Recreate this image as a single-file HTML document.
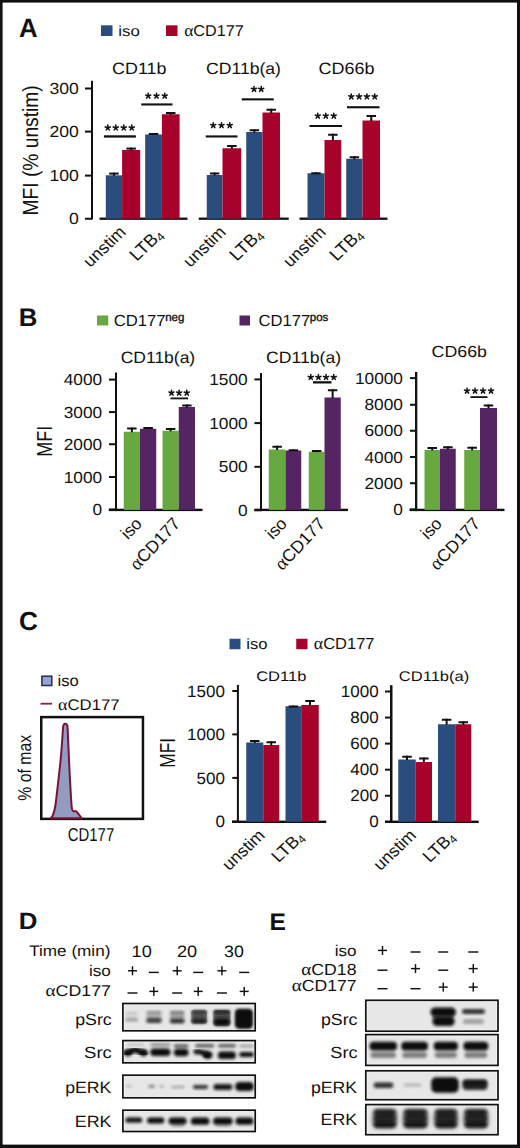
<!DOCTYPE html>
<html><head><meta charset="utf-8"><style>
html,body{margin:0;padding:0;background:#fff;width:520px;height:1148px;overflow:hidden}
svg{display:block}
text{font-family:"Liberation Sans", sans-serif;text-rendering:geometricPrecision}
</style></head><body>
<svg width="520" height="1148" viewBox="0 0 520 1148">
<defs><filter id="b8" x="-50%" y="-50%" width="200%" height="200%"><feGaussianBlur stdDeviation="0.8"/></filter><filter id="b10" x="-50%" y="-50%" width="200%" height="200%"><feGaussianBlur stdDeviation="1.0"/></filter><filter id="b12" x="-50%" y="-50%" width="200%" height="200%"><feGaussianBlur stdDeviation="1.2"/></filter><filter id="b15" x="-50%" y="-50%" width="200%" height="200%"><feGaussianBlur stdDeviation="1.5"/></filter><filter id="b18" x="-50%" y="-50%" width="200%" height="200%"><feGaussianBlur stdDeviation="1.8"/></filter><filter id="b20" x="-50%" y="-50%" width="200%" height="200%"><feGaussianBlur stdDeviation="2.0"/></filter><clipPath id="c0"><rect x="123.70" y="1004.30" width="130.70" height="25.70"/></clipPath><clipPath id="c1"><rect x="123.70" y="1041.40" width="130.70" height="20.60"/></clipPath><clipPath id="c2"><rect x="123.70" y="1076.00" width="130.70" height="21.00"/></clipPath><clipPath id="c3"><rect x="123.70" y="1111.00" width="130.70" height="19.70"/></clipPath><clipPath id="c4"><rect x="366.60" y="1001.10" width="130.60" height="29.30"/></clipPath><clipPath id="c5"><rect x="366.60" y="1035.40" width="130.60" height="29.20"/></clipPath><clipPath id="c6"><rect x="366.60" y="1071.60" width="130.60" height="27.30"/></clipPath><clipPath id="c7"><rect x="366.60" y="1105.40" width="130.60" height="28.50"/></clipPath></defs>
<rect width="520" height="1148" fill="#fff"/>
<rect x="0.00" y="0.00" width="520.00" height="2.60" fill="#111" />
<rect x="0.00" y="0.00" width="2.60" height="1148.00" fill="#111" />
<rect x="517.00" y="0.00" width="3.00" height="1148.00" fill="#111" />
<rect x="0.00" y="1144.60" width="520.00" height="3.40" fill="#111" />
<text transform="translate(18.93,36.90) scale(0.966,1)" font-size="26.67" font-weight="bold" fill="#111" >A</text>
<rect x="101.00" y="25.30" width="11.50" height="10.70" fill="#2b4d7e" />
<text transform="translate(118.32,36.00) scale(1.153,1)" font-size="14.58" fill="#111" >iso</text>
<rect x="166.00" y="25.30" width="11.50" height="10.70" fill="#a6022b" />
<text transform="translate(184.15,36.00) scale(1.039,1)" font-size="15.60" fill="#111" ><tspan font-family="Liberation Serif" font-size="16.85">α</tspan>CD177</text>
<text transform="translate(112.11,74.25) scale(1.096,1)" font-size="16.32" fill="#111" >CD11b</text>
<text transform="translate(206.12,74.25) scale(1.079,1)" font-size="16.30" fill="#111" >CD11b(a)</text>
<text transform="translate(318.60,74.25) scale(1.101,1)" font-size="16.32" fill="#111" >CD66b</text>
<rect x="91.00" y="80.75" width="2.00" height="138.75" fill="#111" />
<rect x="85.00" y="87.50" width="7.00" height="2.00" fill="#111" />
<text transform="translate(49.41,94.10) scale(1.100,1)" font-size="16.00" fill="#111" >300</text>
<rect x="85.00" y="130.60" width="7.00" height="2.00" fill="#111" />
<text transform="translate(49.41,137.20) scale(1.100,1)" font-size="16.00" fill="#111" >200</text>
<rect x="85.00" y="174.60" width="7.00" height="2.00" fill="#111" />
<text transform="translate(49.41,181.20) scale(1.100,1)" font-size="16.00" fill="#111" >100</text>
<rect x="85.00" y="217.75" width="7.00" height="2.00" fill="#111" />
<text transform="translate(68.95,224.35) scale(1.100,1)" font-size="16.00" fill="#111" >0</text>
<text transform="translate(38.30,215.54) scale(1.141,1) rotate(-90)" font-size="19.23" fill="#111" >MFI (% unstim)</text>
<rect x="99.50" y="217.55" width="88.00" height="2.30" fill="#111" />
<rect x="198.75" y="217.55" width="90.00" height="2.30" fill="#111" />
<rect x="299.50" y="217.55" width="88.00" height="2.30" fill="#111" />
<rect x="105.80" y="175.30" width="16.30" height="43.40" fill="#2b4d7e" />
<rect x="112.95" y="172.60" width="2.00" height="3.20" fill="#111" />
<rect x="109.20" y="172.60" width="9.50" height="2.00" fill="#111" />
<rect x="122.10" y="150.00" width="18.10" height="68.70" fill="#a6022b" />
<rect x="130.15" y="147.60" width="2.00" height="2.90" fill="#111" />
<rect x="126.40" y="147.60" width="9.50" height="2.00" fill="#111" />
<rect x="145.20" y="134.50" width="16.70" height="84.20" fill="#2b4d7e" />
<rect x="152.55" y="133.00" width="2.00" height="2.00" fill="#111" />
<rect x="148.80" y="133.00" width="9.50" height="2.00" fill="#111" />
<rect x="161.90" y="114.25" width="17.70" height="104.45" fill="#a6022b" />
<rect x="169.75" y="112.00" width="2.00" height="2.75" fill="#111" />
<rect x="166.00" y="112.00" width="9.50" height="2.00" fill="#111" />
<rect x="206.75" y="175.00" width="15.75" height="43.70" fill="#2b4d7e" />
<rect x="213.62" y="172.50" width="2.00" height="3.00" fill="#111" />
<rect x="209.88" y="172.50" width="9.50" height="2.00" fill="#111" />
<rect x="222.50" y="148.25" width="18.75" height="70.45" fill="#a6022b" />
<rect x="230.88" y="145.00" width="2.00" height="3.75" fill="#111" />
<rect x="227.12" y="145.00" width="9.50" height="2.00" fill="#111" />
<rect x="246.25" y="132.00" width="16.25" height="86.70" fill="#2b4d7e" />
<rect x="253.38" y="129.25" width="2.00" height="3.25" fill="#111" />
<rect x="249.62" y="129.25" width="9.50" height="2.00" fill="#111" />
<rect x="262.50" y="112.50" width="17.50" height="106.20" fill="#a6022b" />
<rect x="270.25" y="108.75" width="2.00" height="4.25" fill="#111" />
<rect x="266.50" y="108.75" width="9.50" height="2.00" fill="#111" />
<rect x="307.50" y="173.25" width="17.00" height="45.45" fill="#2b4d7e" />
<rect x="315.00" y="172.30" width="2.00" height="1.45" fill="#111" />
<rect x="311.25" y="172.30" width="9.50" height="2.00" fill="#111" />
<rect x="324.50" y="140.00" width="16.75" height="78.70" fill="#a6022b" />
<rect x="331.88" y="133.75" width="2.00" height="6.75" fill="#111" />
<rect x="328.12" y="133.75" width="9.50" height="2.00" fill="#111" />
<rect x="346.25" y="158.75" width="16.25" height="59.95" fill="#2b4d7e" />
<rect x="353.38" y="156.25" width="2.00" height="3.00" fill="#111" />
<rect x="349.62" y="156.25" width="9.50" height="2.00" fill="#111" />
<rect x="362.50" y="120.50" width="17.50" height="98.20" fill="#a6022b" />
<rect x="370.25" y="115.00" width="2.00" height="6.00" fill="#111" />
<rect x="366.50" y="115.00" width="9.50" height="2.00" fill="#111" />
<rect x="103.90" y="135.30" width="32.00" height="2.30" fill="#111" />
<path d="M107.76,127.73L107.76,125.07M107.76,127.73L110.28,126.91M107.76,127.73L109.32,129.87M107.76,127.73L106.20,129.87M107.76,127.73L105.24,126.91" stroke="#111" stroke-width="1.55" stroke-linecap="round" fill="none"/>
<path d="M115.75,127.73L115.75,125.07M115.75,127.73L118.28,126.91M115.75,127.73L117.31,129.87M115.75,127.73L114.19,129.87M115.75,127.73L113.23,126.91" stroke="#111" stroke-width="1.55" stroke-linecap="round" fill="none"/>
<path d="M123.75,127.73L123.75,125.07M123.75,127.73L126.27,126.91M123.75,127.73L125.31,129.87M123.75,127.73L122.19,129.87M123.75,127.73L121.22,126.91" stroke="#111" stroke-width="1.55" stroke-linecap="round" fill="none"/>
<path d="M131.74,127.73L131.74,125.07M131.74,127.73L134.26,126.91M131.74,127.73L133.30,129.87M131.74,127.73L130.18,129.87M131.74,127.73L129.22,126.91" stroke="#111" stroke-width="1.55" stroke-linecap="round" fill="none"/>
<rect x="141.25" y="103.40" width="31.25" height="2.10" fill="#111" />
<path d="M148.26,95.93L148.26,93.27M148.26,95.93L150.78,95.11M148.26,95.93L149.82,98.07M148.26,95.93L146.70,98.07M148.26,95.93L145.74,95.11" stroke="#111" stroke-width="1.55" stroke-linecap="round" fill="none"/>
<path d="M156.50,95.93L156.50,93.27M156.50,95.93L159.02,95.11M156.50,95.93L158.06,98.07M156.50,95.93L154.94,98.07M156.50,95.93L153.98,95.11" stroke="#111" stroke-width="1.55" stroke-linecap="round" fill="none"/>
<path d="M164.74,95.93L164.74,93.27M164.74,95.93L167.26,95.11M164.74,95.93L166.30,98.07M164.74,95.93L163.18,98.07M164.74,95.93L162.22,95.11" stroke="#111" stroke-width="1.55" stroke-linecap="round" fill="none"/>
<rect x="205.75" y="135.40" width="31.75" height="2.10" fill="#111" />
<path d="M213.26,125.43L213.26,122.77M213.26,125.43L215.78,124.61M213.26,125.43L214.82,127.57M213.26,125.43L211.70,127.57M213.26,125.43L210.74,124.61" stroke="#111" stroke-width="1.55" stroke-linecap="round" fill="none"/>
<path d="M221.50,125.43L221.50,122.77M221.50,125.43L224.02,124.61M221.50,125.43L223.06,127.57M221.50,125.43L219.94,127.57M221.50,125.43L218.98,124.61" stroke="#111" stroke-width="1.55" stroke-linecap="round" fill="none"/>
<path d="M229.74,125.43L229.74,122.77M229.74,125.43L232.26,124.61M229.74,125.43L231.30,127.57M229.74,125.43L228.18,127.57M229.74,125.43L227.22,124.61" stroke="#111" stroke-width="1.55" stroke-linecap="round" fill="none"/>
<rect x="241.75" y="98.30" width="32.00" height="2.10" fill="#111" />
<path d="M254.01,89.18L254.01,86.52M254.01,89.18L256.53,88.36M254.01,89.18L255.57,91.32M254.01,89.18L252.45,91.32M254.01,89.18L251.49,88.36" stroke="#111" stroke-width="1.55" stroke-linecap="round" fill="none"/>
<path d="M261.24,89.18L261.24,86.52M261.24,89.18L263.76,88.36M261.24,89.18L262.80,91.32M261.24,89.18L259.68,91.32M261.24,89.18L258.72,88.36" stroke="#111" stroke-width="1.55" stroke-linecap="round" fill="none"/>
<rect x="309.50" y="125.00" width="32.50" height="2.00" fill="#111" />
<path d="M317.76,115.93L317.76,113.27M317.76,115.93L320.28,115.11M317.76,115.93L319.32,118.07M317.76,115.93L316.20,118.07M317.76,115.93L315.24,115.11" stroke="#111" stroke-width="1.55" stroke-linecap="round" fill="none"/>
<path d="M325.75,115.93L325.75,113.27M325.75,115.93L328.27,115.11M325.75,115.93L327.31,118.07M325.75,115.93L324.19,118.07M325.75,115.93L323.23,115.11" stroke="#111" stroke-width="1.55" stroke-linecap="round" fill="none"/>
<path d="M333.74,115.93L333.74,113.27M333.74,115.93L336.26,115.11M333.74,115.93L335.30,118.07M333.74,115.93L332.18,118.07M333.74,115.93L331.22,115.11" stroke="#111" stroke-width="1.55" stroke-linecap="round" fill="none"/>
<rect x="347.00" y="106.20" width="32.50" height="2.10" fill="#111" />
<path d="M351.26,96.68L351.26,94.02M351.26,96.68L353.78,95.86M351.26,96.68L352.82,98.82M351.26,96.68L349.70,98.82M351.26,96.68L348.74,95.86" stroke="#111" stroke-width="1.55" stroke-linecap="round" fill="none"/>
<path d="M359.09,96.68L359.09,94.02M359.09,96.68L361.61,95.86M359.09,96.68L360.65,98.82M359.09,96.68L357.53,98.82M359.09,96.68L356.56,95.86" stroke="#111" stroke-width="1.55" stroke-linecap="round" fill="none"/>
<path d="M366.91,96.68L366.91,94.02M366.91,96.68L369.44,95.86M366.91,96.68L368.47,98.82M366.91,96.68L365.35,98.82M366.91,96.68L364.39,95.86" stroke="#111" stroke-width="1.55" stroke-linecap="round" fill="none"/>
<path d="M374.74,96.68L374.74,94.02M374.74,96.68L377.26,95.86M374.74,96.68L376.30,98.82M374.74,96.68L373.18,98.82M374.74,96.68L372.22,95.86" stroke="#111" stroke-width="1.55" stroke-linecap="round" fill="none"/>
<text transform="translate(127.00,233.00) scale(1.050,1) rotate(-45)" font-size="16.80" text-anchor="end" fill="#111" >unstim</text>
<text transform="translate(164.10,235.80) scale(1.05,1) rotate(-45)" font-size="17.2" text-anchor="end" fill="#111" stroke="#111" stroke-width="0">LTB<tspan font-size="11.70" dy="2.41">4</tspan></text>
<text transform="translate(227.00,233.00) scale(1.050,1) rotate(-45)" font-size="16.80" text-anchor="end" fill="#111" >unstim</text>
<text transform="translate(264.10,235.80) scale(1.05,1) rotate(-45)" font-size="17.2" text-anchor="end" fill="#111" stroke="#111" stroke-width="0">LTB<tspan font-size="11.70" dy="2.41">4</tspan></text>
<text transform="translate(327.00,233.00) scale(1.050,1) rotate(-45)" font-size="16.80" text-anchor="end" fill="#111" >unstim</text>
<text transform="translate(364.10,235.80) scale(1.05,1) rotate(-45)" font-size="17.2" text-anchor="end" fill="#111" stroke="#111" stroke-width="0">LTB<tspan font-size="11.70" dy="2.41">4</tspan></text>
<text transform="translate(18.69,326.25) scale(1.018,1)" font-size="25.36" font-weight="bold" fill="#111" >B</text>
<rect x="97.00" y="315.50" width="11.25" height="10.00" fill="#68a840" />
<text transform="translate(113.66,326.25) scale(1.040,1)" font-size="16.07" fill="#111" >CD177</text>
<text transform="translate(165.20,320.70)" font-size="11.50" fill="#111" stroke="#111" stroke-width="0.35" >neg</text>
<rect x="239.50" y="315.50" width="10.50" height="10.00" fill="#552462" />
<text transform="translate(258.42,326.25) scale(1.035,1)" font-size="16.07" fill="#111" >CD177</text>
<text transform="translate(309.80,320.70)" font-size="11.50" fill="#111" stroke="#111" stroke-width="0.35" >pos</text>
<text transform="translate(120.73,363.30) scale(1.066,1)" font-size="16.40" fill="#111" >CD11b(a)</text>
<text transform="translate(266.12,362.60) scale(1.073,1)" font-size="16.40" fill="#111" >CD11b(a)</text>
<text transform="translate(431.61,357.00) scale(1.114,1)" font-size="15.97" fill="#111" >CD66b</text>
<rect x="115.00" y="372.50" width="2.00" height="138.60" fill="#111" />
<rect x="109.00" y="378.60" width="7.00" height="2.00" fill="#111" />
<text transform="translate(63.67,385.10) scale(1.075,1)" font-size="16.07" fill="#111" >4000</text>
<rect x="109.00" y="411.10" width="7.00" height="2.00" fill="#111" />
<text transform="translate(63.67,417.60) scale(1.075,1)" font-size="16.07" fill="#111" >3000</text>
<rect x="109.00" y="443.25" width="7.00" height="2.00" fill="#111" />
<text transform="translate(63.67,449.75) scale(1.075,1)" font-size="16.07" fill="#111" >2000</text>
<rect x="109.00" y="476.00" width="7.00" height="2.00" fill="#111" />
<text transform="translate(63.67,482.50) scale(1.075,1)" font-size="16.07" fill="#111" >1000</text>
<rect x="109.00" y="508.60" width="7.00" height="2.00" fill="#111" />
<text transform="translate(92.52,515.10) scale(1.075,1)" font-size="16.07" fill="#111" >0</text>
<rect x="108.75" y="508.70" width="93.75" height="2.40" fill="#111" />
<rect x="260.00" y="373.00" width="2.00" height="138.10" fill="#111" />
<rect x="254.40" y="378.40" width="6.60" height="2.00" fill="#111" />
<text transform="translate(209.17,384.90) scale(1.075,1)" font-size="16.07" fill="#111" >1500</text>
<rect x="254.40" y="422.10" width="6.60" height="2.00" fill="#111" />
<text transform="translate(209.17,428.60) scale(1.075,1)" font-size="16.07" fill="#111" >1000</text>
<rect x="254.40" y="465.80" width="6.60" height="2.00" fill="#111" />
<text transform="translate(218.84,472.30) scale(1.075,1)" font-size="16.07" fill="#111" >500</text>
<rect x="254.40" y="509.20" width="6.60" height="2.00" fill="#111" />
<text transform="translate(238.02,515.70) scale(1.075,1)" font-size="16.07" fill="#111" >0</text>
<rect x="254.40" y="508.70" width="93.60" height="2.40" fill="#111" />
<rect x="415.00" y="372.00" width="2.30" height="139.10" fill="#111" />
<rect x="410.00" y="377.10" width="6.00" height="2.00" fill="#111" />
<text transform="translate(354.92,383.70) scale(1.075,1)" font-size="16.07" fill="#111" >10000</text>
<rect x="410.00" y="403.75" width="6.00" height="2.00" fill="#111" />
<text transform="translate(364.42,410.35) scale(1.075,1)" font-size="16.07" fill="#111" >8000</text>
<rect x="410.00" y="429.75" width="6.00" height="2.00" fill="#111" />
<text transform="translate(364.42,436.35) scale(1.075,1)" font-size="16.07" fill="#111" >6000</text>
<rect x="410.00" y="456.00" width="6.00" height="2.00" fill="#111" />
<text transform="translate(364.42,462.60) scale(1.075,1)" font-size="16.07" fill="#111" >4000</text>
<rect x="410.00" y="482.25" width="6.00" height="2.00" fill="#111" />
<text transform="translate(364.42,488.85) scale(1.075,1)" font-size="16.07" fill="#111" >2000</text>
<rect x="410.00" y="508.50" width="6.00" height="2.00" fill="#111" />
<text transform="translate(393.27,515.10) scale(1.075,1)" font-size="16.07" fill="#111" >0</text>
<rect x="409.50" y="508.70" width="95.00" height="2.40" fill="#111" />
<rect x="123.75" y="431.75" width="16.25" height="78.15" fill="#68a840" />
<rect x="130.88" y="427.50" width="2.00" height="4.75" fill="#111" />
<rect x="127.12" y="427.50" width="9.50" height="2.00" fill="#111" />
<rect x="140.00" y="428.75" width="16.25" height="81.15" fill="#552462" />
<rect x="147.12" y="427.00" width="2.00" height="2.25" fill="#111" />
<rect x="143.38" y="427.00" width="9.50" height="2.00" fill="#111" />
<rect x="162.50" y="430.75" width="16.25" height="79.15" fill="#68a840" />
<rect x="169.62" y="428.00" width="2.00" height="3.25" fill="#111" />
<rect x="165.88" y="428.00" width="9.50" height="2.00" fill="#111" />
<rect x="178.75" y="407.00" width="16.25" height="102.90" fill="#552462" />
<rect x="185.88" y="404.50" width="2.00" height="3.00" fill="#111" />
<rect x="182.12" y="404.50" width="9.50" height="2.00" fill="#111" />
<rect x="268.75" y="449.50" width="16.75" height="60.40" fill="#68a840" />
<rect x="276.12" y="445.75" width="2.00" height="4.25" fill="#111" />
<rect x="272.38" y="445.75" width="9.50" height="2.00" fill="#111" />
<rect x="285.50" y="450.50" width="15.75" height="59.40" fill="#552462" />
<rect x="292.38" y="449.30" width="2.00" height="1.70" fill="#111" />
<rect x="288.62" y="449.30" width="9.50" height="2.00" fill="#111" />
<rect x="308.75" y="451.75" width="15.75" height="58.15" fill="#68a840" />
<rect x="315.62" y="450.00" width="2.00" height="2.25" fill="#111" />
<rect x="311.88" y="450.00" width="9.50" height="2.00" fill="#111" />
<rect x="324.50" y="397.50" width="16.25" height="112.40" fill="#552462" />
<rect x="331.62" y="389.25" width="2.00" height="8.75" fill="#111" />
<rect x="327.88" y="389.25" width="9.50" height="2.00" fill="#111" />
<rect x="424.50" y="450.00" width="15.50" height="59.90" fill="#68a840" />
<rect x="431.25" y="447.00" width="2.00" height="3.50" fill="#111" />
<rect x="427.50" y="447.00" width="9.50" height="2.00" fill="#111" />
<rect x="440.00" y="448.75" width="15.75" height="61.15" fill="#552462" />
<rect x="446.88" y="446.25" width="2.00" height="3.00" fill="#111" />
<rect x="443.12" y="446.25" width="9.50" height="2.00" fill="#111" />
<rect x="464.25" y="450.00" width="15.75" height="59.90" fill="#68a840" />
<rect x="471.12" y="446.75" width="2.00" height="3.75" fill="#111" />
<rect x="467.38" y="446.75" width="9.50" height="2.00" fill="#111" />
<rect x="480.00" y="408.00" width="17.00" height="101.90" fill="#552462" />
<rect x="487.50" y="404.50" width="2.00" height="4.00" fill="#111" />
<rect x="483.75" y="404.50" width="9.50" height="2.00" fill="#111" />
<rect x="170.50" y="397.50" width="17.50" height="1.80" fill="#111" />
<path d="M171.51,392.93L171.51,390.28M171.51,392.93L174.03,392.11M171.51,392.93L173.07,395.07M171.51,392.93L169.95,395.07M171.51,392.93L168.99,392.11" stroke="#111" stroke-width="1.55" stroke-linecap="round" fill="none"/>
<path d="M179.12,392.93L179.12,390.28M179.12,392.93L181.65,392.11M179.12,392.93L180.68,395.07M179.12,392.93L177.57,395.07M179.12,392.93L176.60,392.11" stroke="#111" stroke-width="1.55" stroke-linecap="round" fill="none"/>
<path d="M186.74,392.93L186.74,390.28M186.74,392.93L189.26,392.11M186.74,392.93L188.30,395.07M186.74,392.93L185.18,395.07M186.74,392.93L184.22,392.11" stroke="#111" stroke-width="1.55" stroke-linecap="round" fill="none"/>
<rect x="313.00" y="381.20" width="18.50" height="2.30" fill="#111" />
<path d="M310.76,377.23L310.76,374.58M310.76,377.23L313.28,376.41M310.76,377.23L312.32,379.37M310.76,377.23L309.20,379.37M310.76,377.23L308.24,376.41" stroke="#111" stroke-width="1.55" stroke-linecap="round" fill="none"/>
<path d="M318.42,377.23L318.42,374.58M318.42,377.23L320.94,376.41M318.42,377.23L319.98,379.37M318.42,377.23L316.86,379.37M318.42,377.23L315.90,376.41" stroke="#111" stroke-width="1.55" stroke-linecap="round" fill="none"/>
<path d="M326.08,377.23L326.08,374.58M326.08,377.23L328.60,376.41M326.08,377.23L327.64,379.37M326.08,377.23L324.52,379.37M326.08,377.23L323.56,376.41" stroke="#111" stroke-width="1.55" stroke-linecap="round" fill="none"/>
<path d="M333.74,377.23L333.74,374.58M333.74,377.23L336.26,376.41M333.74,377.23L335.30,379.37M333.74,377.23L332.18,379.37M333.74,377.23L331.22,376.41" stroke="#111" stroke-width="1.55" stroke-linecap="round" fill="none"/>
<rect x="470.50" y="396.20" width="17.00" height="1.80" fill="#111" />
<path d="M467.01,390.93L467.01,388.28M467.01,390.93L469.53,390.11M467.01,390.93L468.57,393.07M467.01,390.93L465.45,393.07M467.01,390.93L464.49,390.11" stroke="#111" stroke-width="1.55" stroke-linecap="round" fill="none"/>
<path d="M475.00,390.93L475.00,388.28M475.00,390.93L477.53,390.11M475.00,390.93L476.56,393.07M475.00,390.93L473.44,393.07M475.00,390.93L472.48,390.11" stroke="#111" stroke-width="1.55" stroke-linecap="round" fill="none"/>
<path d="M483.00,390.93L483.00,388.28M483.00,390.93L485.52,390.11M483.00,390.93L484.56,393.07M483.00,390.93L481.44,393.07M483.00,390.93L480.47,390.11" stroke="#111" stroke-width="1.55" stroke-linecap="round" fill="none"/>
<path d="M490.99,390.93L490.99,388.28M490.99,390.93L493.51,390.11M490.99,390.93L492.55,393.07M490.99,390.93L489.43,393.07M490.99,390.93L488.47,390.11" stroke="#111" stroke-width="1.55" stroke-linecap="round" fill="none"/>
<text transform="translate(51.90,456.68) scale(1.214,1) rotate(-90)" font-size="17.90" fill="#111" >MFI</text>
<text transform="translate(143.00,524.50) rotate(-46)" font-size="17.20" text-anchor="end" fill="#111" >iso</text>
<text transform="translate(181.00,524.50) rotate(-47)" font-size="17.40" text-anchor="end" fill="#111" ><tspan font-family="Liberation Serif" font-size="18.79">α</tspan>CD177</text>
<text transform="translate(288.00,524.50) rotate(-46)" font-size="17.20" text-anchor="end" fill="#111" >iso</text>
<text transform="translate(326.00,524.50) rotate(-47)" font-size="17.40" text-anchor="end" fill="#111" ><tspan font-family="Liberation Serif" font-size="18.79">α</tspan>CD177</text>
<text transform="translate(443.00,524.50) rotate(-46)" font-size="17.20" text-anchor="end" fill="#111" >iso</text>
<text transform="translate(481.00,524.50) rotate(-47)" font-size="17.40" text-anchor="end" fill="#111" ><tspan font-family="Liberation Serif" font-size="18.79">α</tspan>CD177</text>
<text transform="translate(18.95,629.50) scale(1.003,1)" font-size="26.07" font-weight="bold" fill="#111" >C</text>
<rect x="41.90" y="676.20" width="9.90" height="9.30" fill="#98a3cf" stroke="#262c4e" stroke-width="1.5"/>
<text transform="translate(57.59,686.25) scale(1.062,1)" font-size="15.62" fill="#111" >iso</text>
<rect x="40.50" y="702.80" width="11.50" height="1.80" fill="#9b1a40" />
<text transform="translate(58.08,709.50) scale(1.088,1)" font-size="15.36" fill="#111" ><tspan font-family="Liberation Serif" font-size="16.59">α</tspan>CD177</text>
<rect x="41.25" y="717.1" width="101.7" height="101.8" fill="none" stroke="#111" stroke-width="2.5"/>
<path d="M50.8,818.2 C53.5,816 54.6,811 55.6,804 C56.8,795 58.6,778 60.2,764 C61.4,752 62.4,738 63,728 C63.3,722.3 67.4,722.3 67.6,728 C68.1,738 68.6,752 69.3,766 C70.1,782 70.9,797 71.6,806 C72,809.8 72.4,811 73.4,811.2 L75.8,811.3 C77.3,811.6 78.8,814.6 81.6,818.2 Z" fill="#929cc0" stroke="#7d1234" stroke-width="2" stroke-linejoin="round"/>
<text transform="translate(30.80,800.63) scale(1.180,1) rotate(-90)" font-size="15.78" fill="#111" >% of max</text>
<text transform="translate(67.85,840.60) scale(0.796,1)" font-size="18.71" fill="#111" >CD177</text>
<rect x="229.50" y="638.75" width="11.00" height="10.50" fill="#2b4d7e" />
<text transform="translate(246.34,648.75) scale(1.111,1)" font-size="14.93" fill="#111" >iso</text>
<rect x="296.25" y="638.75" width="11.25" height="10.50" fill="#a6022b" />
<text transform="translate(313.84,648.75) scale(1.027,1)" font-size="16.07" fill="#111" ><tspan font-family="Liberation Serif" font-size="17.36">α</tspan>CD177</text>
<text transform="translate(256.17,681.25) scale(1.192,1)" font-size="13.89" fill="#111" >CD11b</text>
<text transform="translate(398.67,681.25) scale(1.185,1)" font-size="14.00" fill="#111" >CD11b(a)</text>
<rect x="236.90" y="684.90" width="2.00" height="138.10" fill="#111" />
<rect x="232.30" y="690.00" width="5.70" height="2.00" fill="#111" />
<text transform="translate(187.05,696.60) scale(1.040,1)" font-size="16.40" fill="#111" >1500</text>
<rect x="232.30" y="733.40" width="5.70" height="2.00" fill="#111" />
<text transform="translate(187.05,740.00) scale(1.040,1)" font-size="16.40" fill="#111" >1000</text>
<rect x="232.30" y="776.90" width="5.70" height="2.00" fill="#111" />
<text transform="translate(196.60,783.50) scale(1.040,1)" font-size="16.40" fill="#111" >500</text>
<rect x="232.30" y="820.60" width="5.70" height="2.00" fill="#111" />
<text transform="translate(215.53,827.20) scale(1.040,1)" font-size="16.40" fill="#111" >0</text>
<rect x="232.00" y="820.60" width="94.25" height="2.40" fill="#111" />
<rect x="390.00" y="685.20" width="2.50" height="137.80" fill="#111" />
<rect x="385.00" y="690.50" width="6.00" height="2.00" fill="#111" />
<text transform="translate(340.75,697.10) scale(1.040,1)" font-size="16.40" fill="#111" >1000</text>
<rect x="385.00" y="716.56" width="6.00" height="2.00" fill="#111" />
<text transform="translate(350.30,723.16) scale(1.040,1)" font-size="16.40" fill="#111" >800</text>
<rect x="385.00" y="742.62" width="6.00" height="2.00" fill="#111" />
<text transform="translate(350.30,749.22) scale(1.040,1)" font-size="16.40" fill="#111" >600</text>
<rect x="385.00" y="768.68" width="6.00" height="2.00" fill="#111" />
<text transform="translate(350.30,775.28) scale(1.040,1)" font-size="16.40" fill="#111" >400</text>
<rect x="385.00" y="794.74" width="6.00" height="2.00" fill="#111" />
<text transform="translate(350.30,801.34) scale(1.040,1)" font-size="16.40" fill="#111" >200</text>
<rect x="385.00" y="820.80" width="6.00" height="2.00" fill="#111" />
<text transform="translate(369.23,827.40) scale(1.040,1)" font-size="16.40" fill="#111" >0</text>
<rect x="385.00" y="820.60" width="93.75" height="2.40" fill="#111" />
<rect x="246.25" y="742.50" width="17.00" height="79.30" fill="#2b4d7e" />
<rect x="253.75" y="740.00" width="2.00" height="3.00" fill="#111" />
<rect x="250.00" y="740.00" width="9.50" height="2.00" fill="#111" />
<rect x="263.25" y="745.00" width="16.00" height="76.80" fill="#a6022b" />
<rect x="270.25" y="741.25" width="2.00" height="4.25" fill="#111" />
<rect x="266.50" y="741.25" width="9.50" height="2.00" fill="#111" />
<rect x="285.50" y="706.25" width="15.75" height="115.55" fill="#2b4d7e" />
<rect x="292.38" y="705.50" width="2.00" height="1.25" fill="#111" />
<rect x="288.62" y="705.50" width="9.50" height="2.00" fill="#111" />
<rect x="301.25" y="705.00" width="17.50" height="116.80" fill="#a6022b" />
<rect x="309.00" y="700.00" width="2.00" height="5.50" fill="#111" />
<rect x="305.25" y="700.00" width="9.50" height="2.00" fill="#111" />
<rect x="398.25" y="759.50" width="17.50" height="62.30" fill="#2b4d7e" />
<rect x="406.00" y="755.75" width="2.00" height="4.25" fill="#111" />
<rect x="402.25" y="755.75" width="9.50" height="2.00" fill="#111" />
<rect x="415.75" y="762.00" width="16.25" height="59.80" fill="#a6022b" />
<rect x="422.88" y="757.50" width="2.00" height="5.00" fill="#111" />
<rect x="419.12" y="757.50" width="9.50" height="2.00" fill="#111" />
<rect x="438.00" y="724.25" width="17.25" height="97.55" fill="#2b4d7e" />
<rect x="445.62" y="718.75" width="2.00" height="6.00" fill="#111" />
<rect x="441.88" y="718.75" width="9.50" height="2.00" fill="#111" />
<rect x="455.25" y="724.25" width="16.00" height="97.55" fill="#a6022b" />
<rect x="462.25" y="721.25" width="2.00" height="3.50" fill="#111" />
<rect x="458.50" y="721.25" width="9.50" height="2.00" fill="#111" />
<text transform="translate(175.00,767.63) scale(1.260,1) rotate(-90)" font-size="17.26" fill="#111" >MFI</text>
<text transform="translate(266.00,836.25) scale(1.050,1) rotate(-45)" font-size="16.80" text-anchor="end" fill="#111" >unstim</text>
<text transform="translate(305.25,838.00) scale(1.05,1) rotate(-45)" font-size="16.8" text-anchor="end" fill="#111" stroke="#111" stroke-width="0">LTB<tspan font-size="11.42" dy="2.35">4</tspan></text>
<text transform="translate(417.25,836.25) scale(1.050,1) rotate(-45)" font-size="16.80" text-anchor="end" fill="#111" >unstim</text>
<text transform="translate(456.50,838.00) scale(1.05,1) rotate(-45)" font-size="16.8" text-anchor="end" fill="#111" stroke="#111" stroke-width="0">LTB<tspan font-size="11.42" dy="2.35">4</tspan></text>
<text transform="translate(18.69,928.75) scale(1.096,1)" font-size="23.55" font-weight="bold" fill="#111" >D</text>
<text transform="translate(29.16,955.50) scale(1.123,1)" font-size="15.28" fill="#111" >Time (min)</text>
<text transform="translate(89.03,976.25) scale(1.100,1)" font-size="15.50" fill="#111" >iso</text>
<text transform="translate(45.54,996.25) scale(1.146,1)" font-size="15.50" fill="#111" ><tspan font-family="Liberation Serif" font-size="16.74">α</tspan>CD177</text>
<text transform="translate(131.54,956.60) scale(1.108,1)" font-size="16.43" fill="#111" >10</text>
<text transform="translate(176.89,956.60) scale(1.105,1)" font-size="16.43" fill="#111" >20</text>
<text transform="translate(224.09,956.60) scale(1.083,1)" font-size="16.43" fill="#111" >30</text>
<rect x="128.00" y="970.08" width="9.00" height="1.44" fill="#111" />
<rect x="131.78" y="966.30" width="1.44" height="9.00" fill="#111" />
<rect x="127.50" y="992.28" width="10.00" height="1.44" fill="#111" />
<rect x="148.80" y="971.68" width="10.00" height="1.44" fill="#111" />
<rect x="149.30" y="990.68" width="9.00" height="1.44" fill="#111" />
<rect x="153.08" y="986.90" width="1.44" height="9.00" fill="#111" />
<rect x="172.70" y="970.08" width="9.00" height="1.44" fill="#111" />
<rect x="176.48" y="966.30" width="1.44" height="9.00" fill="#111" />
<rect x="172.20" y="992.28" width="10.00" height="1.44" fill="#111" />
<rect x="193.20" y="971.68" width="10.00" height="1.44" fill="#111" />
<rect x="193.70" y="990.68" width="9.00" height="1.44" fill="#111" />
<rect x="197.48" y="986.90" width="1.44" height="9.00" fill="#111" />
<rect x="217.40" y="970.08" width="9.00" height="1.44" fill="#111" />
<rect x="221.18" y="966.30" width="1.44" height="9.00" fill="#111" />
<rect x="216.90" y="992.28" width="10.00" height="1.44" fill="#111" />
<rect x="239.20" y="971.68" width="10.00" height="1.44" fill="#111" />
<rect x="239.70" y="990.68" width="9.00" height="1.44" fill="#111" />
<rect x="243.48" y="986.90" width="1.44" height="9.00" fill="#111" />
<text transform="translate(75.18,1024.50) scale(1.090,1)" font-size="16.30" fill="#111" >pSrc</text>
<text transform="translate(84.08,1057.50) scale(1.134,1)" font-size="16.30" fill="#111" >Src</text>
<text transform="translate(65.19,1092.50) scale(1.087,1)" font-size="16.30" fill="#111" >pERK</text>
<text transform="translate(74.82,1126.75) scale(1.096,1)" font-size="16.30" fill="#111" >ERK</text>
<text transform="translate(269.53,929.50) scale(1.027,1)" font-size="23.91" font-weight="bold" fill="#111" >E</text>
<text transform="translate(334.78,955.50) scale(1.100,1)" font-size="15.50" fill="#111" >iso</text>
<text transform="translate(301.29,975.00) scale(1.100,1)" font-size="16.07" fill="#111" ><tspan font-family="Liberation Serif" font-size="17.36">α</tspan>CD18</text>
<text transform="translate(291.80,991.25) scale(1.096,1)" font-size="16.07" fill="#111" ><tspan font-family="Liberation Serif" font-size="17.36">α</tspan>CD177</text>
<rect x="378.00" y="949.68" width="9.00" height="1.44" fill="#111" />
<rect x="381.78" y="945.90" width="1.44" height="9.00" fill="#111" />
<rect x="410.50" y="951.28" width="10.00" height="1.44" fill="#111" />
<rect x="438.25" y="951.28" width="10.00" height="1.44" fill="#111" />
<rect x="468.25" y="951.28" width="10.00" height="1.44" fill="#111" />
<rect x="377.50" y="969.48" width="10.00" height="1.44" fill="#111" />
<rect x="411.00" y="967.88" width="9.00" height="1.44" fill="#111" />
<rect x="414.78" y="964.10" width="1.44" height="9.00" fill="#111" />
<rect x="438.25" y="969.48" width="10.00" height="1.44" fill="#111" />
<rect x="468.75" y="967.88" width="9.00" height="1.44" fill="#111" />
<rect x="472.53" y="964.10" width="1.44" height="9.00" fill="#111" />
<rect x="377.50" y="987.98" width="10.00" height="1.44" fill="#111" />
<rect x="410.50" y="987.98" width="10.00" height="1.44" fill="#111" />
<rect x="438.75" y="986.38" width="9.00" height="1.44" fill="#111" />
<rect x="442.53" y="982.60" width="1.44" height="9.00" fill="#111" />
<rect x="468.75" y="986.38" width="9.00" height="1.44" fill="#111" />
<rect x="472.53" y="982.60" width="1.44" height="9.00" fill="#111" />
<text transform="translate(320.93,1024.50) scale(1.090,1)" font-size="16.30" fill="#111" >pSrc</text>
<text transform="translate(330.34,1057.50) scale(1.113,1)" font-size="16.30" fill="#111" >Src</text>
<text transform="translate(310.94,1092.50) scale(1.087,1)" font-size="16.30" fill="#111" >pERK</text>
<text transform="translate(320.57,1125.00) scale(1.096,1)" font-size="16.30" fill="#111" >ERK</text>
<rect x="122.10" y="1002.70" width="133.90" height="28.90" fill="#f4f4f4"/>
<rect x="124.70" y="1005.30" width="128.70" height="23.70" fill="#e7e7e7"/>
<g clip-path="url(#c0)">
<rect x="125.4" y="1011.8" width="12.8" height="3.5" rx="1.8" fill="#0a0a0a" fill-opacity="0.15" filter="url(#b15)"/>
<rect x="125.4" y="1017.5" width="12.8" height="4.0" rx="2.0" fill="#0a0a0a" fill-opacity="0.30" filter="url(#b15)"/>
<rect x="146.2" y="1011.0" width="15.5" height="3.5" rx="1.8" fill="#0a0a0a" fill-opacity="0.40" filter="url(#b15)"/>
<rect x="146.2" y="1015.3" width="15.5" height="3.0" rx="1.5" fill="#0a0a0a" fill-opacity="0.30" filter="url(#b15)"/>
<rect x="146.2" y="1018.2" width="15.5" height="4.5" rx="2.2" fill="#0a0a0a" fill-opacity="0.85" filter="url(#b15)"/>
<rect x="169.8" y="1011.0" width="14.8" height="3.5" rx="1.8" fill="#0a0a0a" fill-opacity="0.50" filter="url(#b15)"/>
<rect x="169.8" y="1015.3" width="14.8" height="3.0" rx="1.5" fill="#0a0a0a" fill-opacity="0.40" filter="url(#b15)"/>
<rect x="169.8" y="1018.8" width="14.8" height="4.5" rx="2.2" fill="#0a0a0a" fill-opacity="0.90" filter="url(#b15)"/>
<rect x="191.3" y="1009.8" width="15.7" height="14.0" rx="3.0" fill="#0a0a0a" fill-opacity="0.30" filter="url(#b16)"/>
<rect x="191.3" y="1010.5" width="15.7" height="4.0" rx="2.0" fill="#0a0a0a" fill-opacity="0.85" filter="url(#b15)"/>
<rect x="191.3" y="1014.9" width="15.7" height="3.5" rx="1.8" fill="#0a0a0a" fill-opacity="0.60" filter="url(#b15)"/>
<rect x="191.3" y="1018.5" width="15.7" height="5.0" rx="2.5" fill="#0a0a0a" fill-opacity="0.97" filter="url(#b15)"/>
<rect x="213.4" y="1010.0" width="16.9" height="16.0" rx="3.0" fill="#0a0a0a" fill-opacity="0.40" filter="url(#b16)"/>
<rect x="213.4" y="1010.3" width="16.9" height="4.0" rx="2.0" fill="#0a0a0a" fill-opacity="0.95" filter="url(#b15)"/>
<rect x="213.4" y="1015.0" width="16.9" height="3.0" rx="1.5" fill="#0a0a0a" fill-opacity="0.70" filter="url(#b15)"/>
<rect x="213.4" y="1018.0" width="16.9" height="8.0" rx="4.0" fill="#0a0a0a" fill-opacity="1.00" filter="url(#b15)"/>
<rect x="235.2" y="1009.0" width="17.3" height="19.4" rx="4.0" fill="#0a0a0a" fill-opacity="1.00" filter="url(#b15)"/>
<rect x="236.2" y="1010.2" width="15.3" height="17.0" rx="3.0" fill="#0a0a0a" fill-opacity="1.00" filter="url(#b10)"/>
</g>
<rect x="122.90" y="1003.50" width="132.30" height="27.30" fill="none" stroke="#111" stroke-width="1.7"/>
<rect x="122.10" y="1039.80" width="133.90" height="23.80" fill="#f4f4f4"/>
<rect x="124.70" y="1042.40" width="128.70" height="18.60" fill="#e7e7e7"/>
<g clip-path="url(#c1)">
<path d="M126.5,1053.2 C129,1053.5 131,1050 135,1050 C139,1050 141,1053.5 144.5,1053.2" fill="none" stroke="#0a0a0a" stroke-width="6" stroke-linecap="round" stroke-opacity="1" filter="url(#b15)"/>
<ellipse cx="128.0" cy="1053.0" rx="3.5" ry="3.3" fill="#0a0a0a" fill-opacity="1.00" filter="url(#b15)"/>
<ellipse cx="143.5" cy="1053.0" rx="3.5" ry="3.3" fill="#0a0a0a" fill-opacity="1.00" filter="url(#b15)"/>
<rect x="127.0" y="1043.2" width="17.0" height="3.0" rx="1.5" fill="#0a0a0a" fill-opacity="0.15" filter="url(#b15)"/>
<rect x="150.3" y="1043.0" width="20.2" height="3.5" rx="1.8" fill="#0a0a0a" fill-opacity="0.35" filter="url(#b15)"/>
<rect x="150.3" y="1048.5" width="20.2" height="7.5" rx="3.8" fill="#0a0a0a" fill-opacity="1.00" filter="url(#b15)"/>
<rect x="173.8" y="1044.2" width="14.8" height="3.5" rx="1.8" fill="#0a0a0a" fill-opacity="0.60" filter="url(#b15)"/>
<rect x="173.8" y="1048.8" width="14.8" height="7.5" rx="3.8" fill="#0a0a0a" fill-opacity="1.00" filter="url(#b15)"/>
<rect x="195.0" y="1044.0" width="19.4" height="3.5" rx="1.8" fill="#0a0a0a" fill-opacity="0.60" filter="url(#b15)"/>
<path d="M196,1051.8 C201,1051.5 204,1052 207,1055.5" fill="none" stroke="#0a0a0a" stroke-width="5" stroke-linecap="round" stroke-opacity="1" filter="url(#b15)"/>
<ellipse cx="207.8" cy="1055.0" rx="4.8" ry="4.0" fill="#0a0a0a" fill-opacity="1.00" filter="url(#b15)"/>
<rect x="217.9" y="1044.0" width="18.0" height="3.5" rx="1.8" fill="#0a0a0a" fill-opacity="0.60" filter="url(#b15)"/>
<rect x="217.9" y="1051.5" width="18.0" height="7.5" rx="3.5" fill="#0a0a0a" fill-opacity="1.00" filter="url(#b15)"/>
<rect x="239.3" y="1044.5" width="14.6" height="3.0" rx="1.5" fill="#0a0a0a" fill-opacity="0.30" filter="url(#b15)"/>
<rect x="239.3" y="1052.0" width="14.6" height="5.0" rx="2.5" fill="#0a0a0a" fill-opacity="1.00" filter="url(#b15)"/>
</g>
<rect x="122.90" y="1040.60" width="132.30" height="22.20" fill="none" stroke="#111" stroke-width="1.7"/>
<rect x="122.10" y="1074.40" width="133.90" height="24.20" fill="#f4f4f4"/>
<rect x="124.70" y="1077.00" width="128.70" height="19.00" fill="#e7e7e7"/>
<g clip-path="url(#c2)">
<ellipse cx="128.8" cy="1086.0" rx="3.0" ry="1.5" fill="#0a0a0a" fill-opacity="0.18" filter="url(#b15)"/>
<ellipse cx="151.6" cy="1086.2" rx="3.5" ry="1.8" fill="#0a0a0a" fill-opacity="0.40" filter="url(#b15)"/>
<ellipse cx="161.7" cy="1086.5" rx="2.5" ry="1.5" fill="#0a0a0a" fill-opacity="0.25" filter="url(#b15)"/>
<rect x="171.0" y="1085.5" width="13.6" height="3.0" rx="1.5" fill="#0a0a0a" fill-opacity="0.25" filter="url(#b15)"/>
<rect x="192.9" y="1084.9" width="15.2" height="4.0" rx="2.0" fill="#0a0a0a" fill-opacity="0.85" filter="url(#b15)"/>
<rect x="213.4" y="1084.1" width="19.0" height="5.8" rx="2.9" fill="#0a0a0a" fill-opacity="0.95" filter="url(#b15)"/>
<rect x="235.0" y="1082.1" width="19.0" height="9.0" rx="4.5" fill="#0a0a0a" fill-opacity="1.00" filter="url(#b15)"/>
</g>
<rect x="122.90" y="1075.20" width="132.30" height="22.60" fill="none" stroke="#111" stroke-width="1.7"/>
<rect x="122.10" y="1109.40" width="133.90" height="22.90" fill="#f4f4f4"/>
<rect x="124.70" y="1112.00" width="128.70" height="17.70" fill="#e7e7e7"/>
<g clip-path="url(#c3)">
<rect x="125.4" y="1117.4" width="16.8" height="5.2" rx="2.6" fill="#0a0a0a" fill-opacity="1.00" filter="url(#b15)"/>
<rect x="147.0" y="1117.5" width="17.4" height="6.0" rx="3.0" fill="#0a0a0a" fill-opacity="1.00" filter="url(#b15)"/>
<rect x="168.5" y="1117.5" width="18.1" height="7.0" rx="3.5" fill="#0a0a0a" fill-opacity="1.00" filter="url(#b15)"/>
<rect x="190.8" y="1117.6" width="18.7" height="7.2" rx="3.6" fill="#0a0a0a" fill-opacity="1.00" filter="url(#b15)"/>
<rect x="213.1" y="1117.6" width="19.5" height="7.2" rx="3.6" fill="#0a0a0a" fill-opacity="1.00" filter="url(#b15)"/>
<rect x="235.5" y="1117.6" width="18.0" height="7.2" rx="3.6" fill="#0a0a0a" fill-opacity="1.00" filter="url(#b15)"/>
<rect x="172.0" y="1124.0" width="12.0" height="3.0" rx="1.5" fill="#0a0a0a" fill-opacity="0.25" filter="url(#b15)"/>
<rect x="216.0" y="1124.0" width="14.0" height="3.0" rx="1.5" fill="#0a0a0a" fill-opacity="0.20" filter="url(#b15)"/>
</g>
<rect x="122.90" y="1110.20" width="132.30" height="21.30" fill="none" stroke="#111" stroke-width="1.7"/>
<rect x="365.00" y="999.50" width="133.80" height="32.50" fill="#f4f4f4"/>
<rect x="367.60" y="1002.10" width="128.60" height="27.30" fill="#e7e7e7"/>
<g clip-path="url(#c4)">
<rect x="430.4" y="1007.6" width="25.6" height="9.0" rx="4.5" fill="#0a0a0a" fill-opacity="1.00" filter="url(#b18)"/>
<rect x="432.4" y="1016.5" width="22.2" height="9.5" rx="4.5" fill="#0a0a0a" fill-opacity="1.00" filter="url(#b18)"/>
<rect x="433.0" y="1015.1" width="20.0" height="3.0" rx="1.5" fill="#0a0a0a" fill-opacity="0.80" filter="url(#b15)"/>
<rect x="462.0" y="1009.2" width="22.9" height="4.5" rx="2.2" fill="#0a0a0a" fill-opacity="0.90" filter="url(#b15)"/>
<rect x="463.0" y="1019.0" width="21.0" height="5.0" rx="2.5" fill="#0a0a0a" fill-opacity="0.30" filter="url(#b18)"/>
</g>
<rect x="365.80" y="1000.30" width="132.20" height="30.90" fill="none" stroke="#111" stroke-width="1.7"/>
<rect x="365.00" y="1033.80" width="133.80" height="32.40" fill="#f4f4f4"/>
<rect x="367.60" y="1036.40" width="128.60" height="27.20" fill="#e7e7e7"/>
<g clip-path="url(#c5)">
<rect x="369.5" y="1041.7" width="27.5" height="8.8" rx="4.0" fill="#0a0a0a" fill-opacity="1.00" filter="url(#b15)"/>
<rect x="370.5" y="1051.9" width="25.5" height="6.0" rx="3.0" fill="#0a0a0a" fill-opacity="0.45" filter="url(#b18)"/>
<rect x="401.2" y="1041.7" width="26.8" height="8.8" rx="4.0" fill="#0a0a0a" fill-opacity="1.00" filter="url(#b15)"/>
<rect x="402.2" y="1051.9" width="24.8" height="6.0" rx="3.0" fill="#0a0a0a" fill-opacity="0.45" filter="url(#b18)"/>
<rect x="433.7" y="1041.7" width="24.3" height="8.8" rx="4.0" fill="#0a0a0a" fill-opacity="1.00" filter="url(#b15)"/>
<rect x="434.7" y="1051.9" width="22.3" height="6.0" rx="3.0" fill="#0a0a0a" fill-opacity="0.45" filter="url(#b18)"/>
<rect x="463.4" y="1041.7" width="24.9" height="8.8" rx="4.0" fill="#0a0a0a" fill-opacity="1.00" filter="url(#b15)"/>
<rect x="464.4" y="1051.9" width="22.9" height="6.0" rx="3.0" fill="#0a0a0a" fill-opacity="0.45" filter="url(#b18)"/>
</g>
<rect x="365.80" y="1034.60" width="132.20" height="30.80" fill="none" stroke="#111" stroke-width="1.7"/>
<rect x="365.00" y="1070.00" width="133.80" height="30.50" fill="#f4f4f4"/>
<rect x="367.60" y="1072.60" width="128.60" height="25.30" fill="#e7e7e7"/>
<g clip-path="url(#c6)">
<rect x="373.7" y="1082.5" width="19.6" height="5.4" rx="2.7" fill="#0a0a0a" fill-opacity="0.85" filter="url(#b15)"/>
<rect x="403.4" y="1083.2" width="18.1" height="3.5" rx="1.8" fill="#0a0a0a" fill-opacity="0.20" filter="url(#b18)"/>
<rect x="431.2" y="1077.2" width="27.5" height="15.5" rx="5.0" fill="#0a0a0a" fill-opacity="1.00" filter="url(#b15)"/>
<rect x="462.5" y="1079.5" width="25.0" height="10.5" rx="4.0" fill="#0a0a0a" fill-opacity="0.90" filter="url(#b15)"/>
<rect x="463.0" y="1080.2" width="24.0" height="4.5" rx="2.2" fill="#0a0a0a" fill-opacity="0.50" filter="url(#b15)"/>
</g>
<rect x="365.80" y="1070.80" width="132.20" height="28.90" fill="none" stroke="#111" stroke-width="1.7"/>
<rect x="365.00" y="1103.80" width="133.80" height="31.70" fill="#f4f4f4"/>
<rect x="367.60" y="1106.40" width="128.60" height="26.50" fill="#e7e7e7"/>
<g clip-path="url(#c7)">
<rect x="373.0" y="1109.5" width="23.6" height="18.6" rx="5.0" fill="#0a0a0a" fill-opacity="0.80" filter="url(#b20)"/>
<rect x="374.0" y="1110.0" width="21.6" height="4.5" rx="2.2" fill="#0a0a0a" fill-opacity="0.85" filter="url(#b15)"/>
<rect x="374.0" y="1116.3" width="21.6" height="4.0" rx="2.0" fill="#0a0a0a" fill-opacity="0.75" filter="url(#b15)"/>
<rect x="374.0" y="1121.8" width="21.6" height="5.5" rx="2.8" fill="#0a0a0a" fill-opacity="0.90" filter="url(#b15)"/>
<rect x="403.4" y="1109.5" width="24.2" height="18.6" rx="5.0" fill="#0a0a0a" fill-opacity="0.80" filter="url(#b20)"/>
<rect x="404.4" y="1110.0" width="22.2" height="4.5" rx="2.2" fill="#0a0a0a" fill-opacity="0.85" filter="url(#b15)"/>
<rect x="404.4" y="1116.3" width="22.2" height="4.0" rx="2.0" fill="#0a0a0a" fill-opacity="0.75" filter="url(#b15)"/>
<rect x="404.4" y="1121.8" width="22.2" height="5.5" rx="2.8" fill="#0a0a0a" fill-opacity="0.90" filter="url(#b15)"/>
<rect x="434.5" y="1109.5" width="23.0" height="18.6" rx="5.0" fill="#0a0a0a" fill-opacity="0.80" filter="url(#b20)"/>
<rect x="435.5" y="1110.0" width="21.0" height="4.5" rx="2.2" fill="#0a0a0a" fill-opacity="0.85" filter="url(#b15)"/>
<rect x="435.5" y="1116.3" width="21.0" height="4.0" rx="2.0" fill="#0a0a0a" fill-opacity="0.75" filter="url(#b15)"/>
<rect x="435.5" y="1121.8" width="21.0" height="5.5" rx="2.8" fill="#0a0a0a" fill-opacity="0.90" filter="url(#b15)"/>
<rect x="464.0" y="1109.5" width="24.0" height="18.6" rx="5.0" fill="#0a0a0a" fill-opacity="0.80" filter="url(#b20)"/>
<rect x="465.0" y="1110.0" width="22.0" height="4.5" rx="2.2" fill="#0a0a0a" fill-opacity="0.85" filter="url(#b15)"/>
<rect x="465.0" y="1116.3" width="22.0" height="4.0" rx="2.0" fill="#0a0a0a" fill-opacity="0.75" filter="url(#b15)"/>
<rect x="465.0" y="1121.8" width="22.0" height="5.5" rx="2.8" fill="#0a0a0a" fill-opacity="0.90" filter="url(#b15)"/>
</g>
<rect x="365.80" y="1104.60" width="132.20" height="30.10" fill="none" stroke="#111" stroke-width="1.7"/>
</svg></body></html>
